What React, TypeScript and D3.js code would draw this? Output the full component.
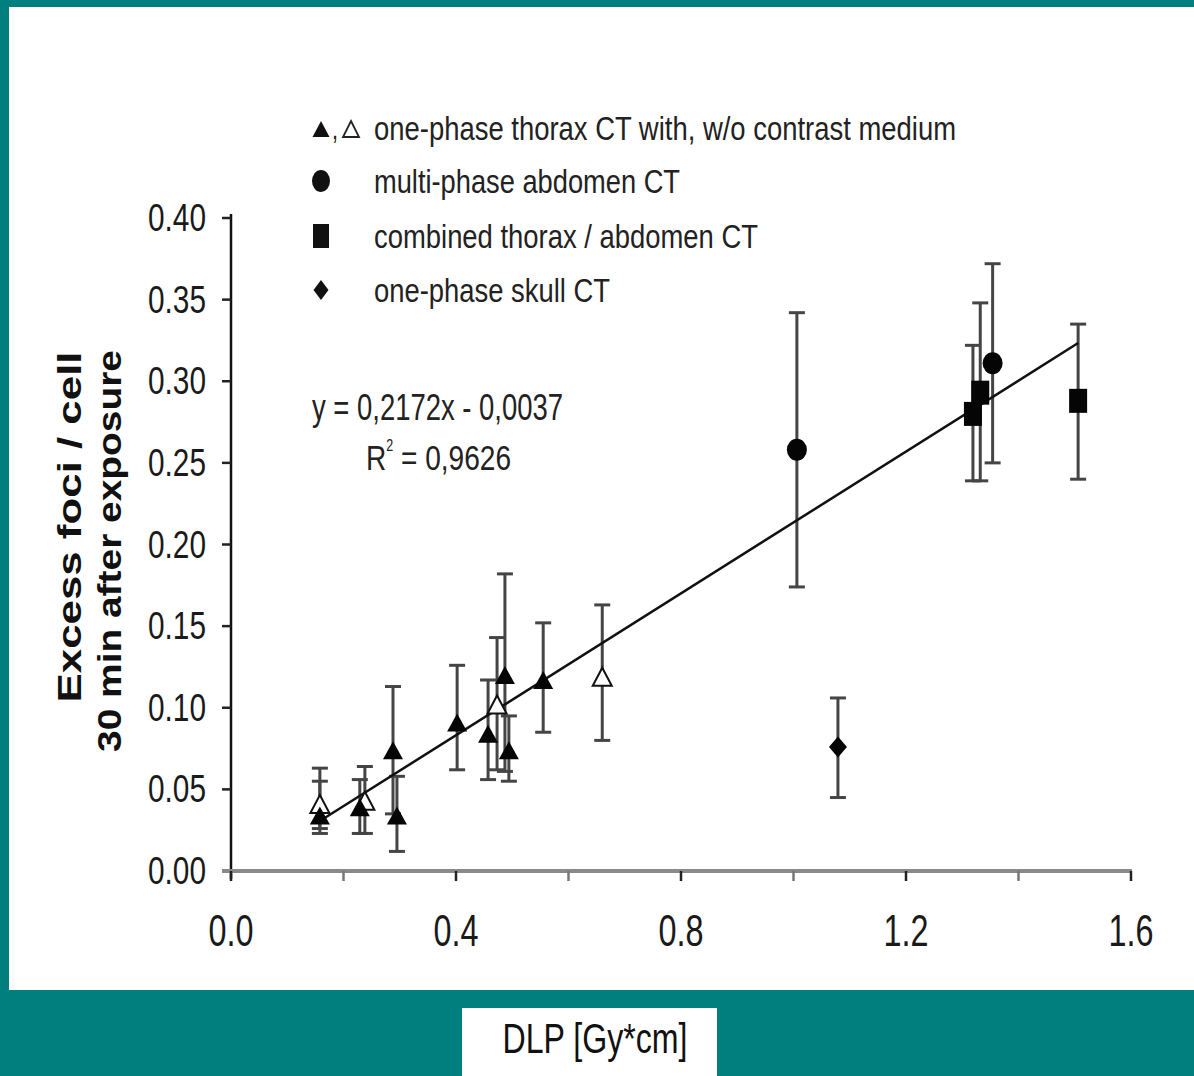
import React from "react";
import * as d3 from "d3";

// ---- Data ----
const filledTriX = [0.158, 0.229, 0.288, 0.295, 0.402, 0.457, 0.487, 0.494, 0.555];
const filledTriY = [0.034, 0.039, 0.074, 0.034, 0.091, 0.084, 0.12, 0.074, 0.117];
const filledTriHi = [0.055, 0.056, 0.113, 0.058, 0.126, 0.117, 0.182, 0.095, 0.152];
const filledTriLo = [0.026, 0.023, 0.035, 0.012, 0.062, 0.056, 0.061, 0.055, 0.085];

const openTriX = [0.158, 0.238, 0.473, 0.66];
const openTriY = [0.041, 0.043, 0.102, 0.119];
const openTriHi = [0.063, 0.064, 0.143, 0.163];
const openTriLo = [0.023, 0.023, 0.062, 0.08];

const circleX = [1.006, 1.354];
const circleY = [0.258, 0.311];
const circleHi = [0.342, 0.372];
const circleLo = [0.174, 0.25];

const squareX = [1.319, 1.332, 1.506];
const squareY = [0.28, 0.293, 0.288];
const squareHi = [0.322, 0.348, 0.335];
const squareLo = [0.239, 0.239, 0.24];

const diamondX = [1.079];
const diamondY = [0.076];
const diamondHi = [0.106];
const diamondLo = [0.045];

const fitSlope = 0.2172;
const fitIntercept = -0.0037;
const fitXRange = [0.158, 1.506];

const yTicks = [0, 0.05, 0.1, 0.15, 0.2, 0.25, 0.3, 0.35, 0.4];
const xMajorTicks = [0, 0.4, 0.8, 1.2, 1.6];
const xMinorTicks = [0.2, 0.6, 1.0, 1.4];

const legendLabels = [
  "one-phase thorax CT with, w/o contrast medium",
  "multi-phase abdomen CT",
  "combined thorax / abdomen CT",
  "one-phase skull CT",
];
const equationText = "y = 0,2172x - 0,0037";
const r2Value = " = 0,9626";
const xTitle = "DLP [Gy*cm]";
const yTitle1 = "Excess foci / cell";
const yTitle2 = "30 min after exposure";

const TEAL = "#017f7f";
const FONT = "'Liberation Sans', Arial, sans-serif";

function Txt(props: any) {
  const { x, y, children, size, len, anchor = "start", weight = "normal", fill = "#1a1a1a", transform } = props;
  return (
    <text
      x={x}
      y={y}
      fontSize={size}
      fontFamily={FONT}
      fontWeight={weight}
      fill={fill}
      textAnchor={anchor}
      textLength={len}
      lengthAdjust="spacingAndGlyphs"
      transform={transform}
    >
      {children}
    </text>
  );
}

const triPath = (w: number, h: number) => `M0,${-h / 2}L${w / 2},${h / 2}L${-w / 2},${h / 2}Z`;
const diamondPath = (w: number, h: number) => `M0,${-h / 2}L${w / 2},0L0,${h / 2}L${-w / 2},0Z`;

export default function App() {
  const x = d3.scaleLinear().domain([0, 1.6]).range([231, 1131]);
  const y = d3.scaleLinear().domain([0, 0.4]).range([871, 218]);

  const errColor = "#454545";
  const capW = 16;

  const errBars = (xs: number[], hi: number[], lo: number[], key: string) =>
    xs.map((xv, i) => (
      <g key={key + i} stroke={errColor} strokeWidth={3}>
        <line x1={x(xv)} x2={x(xv)} y1={y(hi[i])} y2={y(lo[i])} />
        <line x1={x(xv) - capW / 2} x2={x(xv) + capW / 2} y1={y(hi[i])} y2={y(hi[i])} />
        <line x1={x(xv) - capW / 2} x2={x(xv) + capW / 2} y1={y(lo[i])} y2={y(lo[i])} />
      </g>
    ));

  const fitLine = d3.line<number>()
    .x((d) => x(d))
    .y((d) => y(fitSlope * d + fitIntercept));

  const legendY = [128, 181, 236, 290];

  return (
    <svg
      width={1194}
      height={1076}
      style={{ position: "absolute", left: 0, top: 0, display: "block" }}
    >
      <rect x={0} y={0} width={1194} height={1076} fill={TEAL} />
      <rect x={9} y={7} width={1185} height={983} fill="#fff" />
      <rect x={462} y={1008} width={255} height={68} fill="#fff" />

      {/* Legend */}
      <g>
        <path d={triPath(17, 16)} transform={`translate(321,${legendY[0] + 1})`} fill="#111" />
        <Txt x={332} y={legendY[0] + 11} size={30} len={6}>,</Txt>
        <path d={triPath(16, 16)} transform={`translate(351,${legendY[0] + 1})`} fill="none" stroke="#222" strokeWidth={1.8} />
        <ellipse cx={321} cy={legendY[1]} rx={9} ry={11} fill="#111" />
        <rect x={313} y={legendY[2] - 12} width={16} height={24} fill="#111" />
        <path d={diamondPath(15, 20)} transform={`translate(321,${legendY[3]})`} fill="#111" />
        {legendLabels.map((t, i) => (
          <Txt key={t} x={374} y={legendY[i] + 12} size={34} len={[582, 306, 384, 236][i]} fill="#222">
            {t}
          </Txt>
        ))}
      </g>

      {/* Equation */}
      <Txt x={312} y={420} size={36} len={251} fill="#222">{equationText}</Txt>
      <text
        transform="translate(366,470) scale(0.78,1)"
        fontSize={36}
        fontFamily={FONT}
        fill="#222"
      >
        R<tspan dy={-19} fontSize={16}>2</tspan>
        <tspan dy={19}>{r2Value}</tspan>
      </text>

      {/* Axes */}
      <line x1={231} x2={231} y1={y(0.4) - 4} y2={y(0) + 8} stroke="#111" strokeWidth={2.5} />
      {yTicks.map((t) => (
        <g key={"yt" + t}>
          <line x1={222} x2={231} y1={y(t)} y2={y(t)} stroke="#222" strokeWidth={2.5} />
          <Txt x={206} y={y(t) + 13} size={38} len={58} anchor="end" fill="#1a1a1a">
            {t.toFixed(2)}
          </Txt>
        </g>
      ))}
      <line x1={222} x2={x(1.6) + 1} y1={y(0)} y2={y(0)} stroke="#8a8a8a" strokeWidth={4} />
      {xMajorTicks.map((t) => (
        <g key={"xt" + t}>
          <line x1={x(t)} x2={x(t)} y1={y(0)} y2={y(0) + 10} stroke="#222" strokeWidth={2.5} />
          <Txt x={x(t)} y={946} size={45} len={45} anchor="middle" fill="#1a1a1a">
            {t.toFixed(1)}
          </Txt>
        </g>
      ))}
      {xMinorTicks.map((t) => (
        <line key={"xm" + t} x1={x(t)} x2={x(t)} y1={y(0)} y2={y(0) + 10} stroke="#777" strokeWidth={2.5} />
      ))}

      {/* Axis titles */}
      <Txt x={595} y={1053} size={43} len={185} anchor="middle" fill="#111">{xTitle}</Txt>
      <Txt x={0} y={0} size={34} len={351} anchor="middle" weight="bold" fill="#111"
        transform="translate(81,527) rotate(-90)">{yTitle1}</Txt>
      <Txt x={0} y={0} size={34} len={402} anchor="middle" weight="bold" fill="#111"
        transform="translate(121,551) rotate(-90)">{yTitle2}</Txt>

      {/* Error bars */}
      {errBars(filledTriX, filledTriHi, filledTriLo, "ft")}
      {errBars(openTriX, openTriHi, openTriLo, "ot")}
      {errBars(circleX, circleHi, circleLo, "c")}
      {errBars(squareX, squareHi, squareLo, "s")}
      {errBars(diamondX, diamondHi, diamondLo, "d")}

      {/* Fit line */}
      <path d={fitLine(fitXRange) || ""} fill="none" stroke="#111" strokeWidth={2.5} />

      {/* Markers */}
      {openTriX.map((xv, i) => (
        <path key={"otm" + i} d={triPath(19, 18)} transform={`translate(${x(xv)},${y(openTriY[i])})`}
          fill="#fff" stroke="#111" strokeWidth={2} />
      ))}
      {filledTriX.map((xv, i) => (
        <path key={"ftm" + i} d={triPath(20, 18)} transform={`translate(${x(xv)},${y(filledTriY[i])})`} fill="#050505" />
      ))}
      {circleX.map((xv, i) => (
        <ellipse key={"cm" + i} cx={x(xv)} cy={y(circleY[i])} rx={10} ry={11} fill="#050505" />
      ))}
      {squareX.map((xv, i) => (
        <rect key={"sm" + i} x={x(xv) - 9} y={y(squareY[i]) - 12} width={18} height={24} fill="#050505" />
      ))}
      {diamondX.map((xv, i) => (
        <path key={"dm" + i} d={diamondPath(18, 21)} transform={`translate(${x(xv)},${y(diamondY[i])})`} fill="#050505" />
      ))}
    </svg>
  );
}
